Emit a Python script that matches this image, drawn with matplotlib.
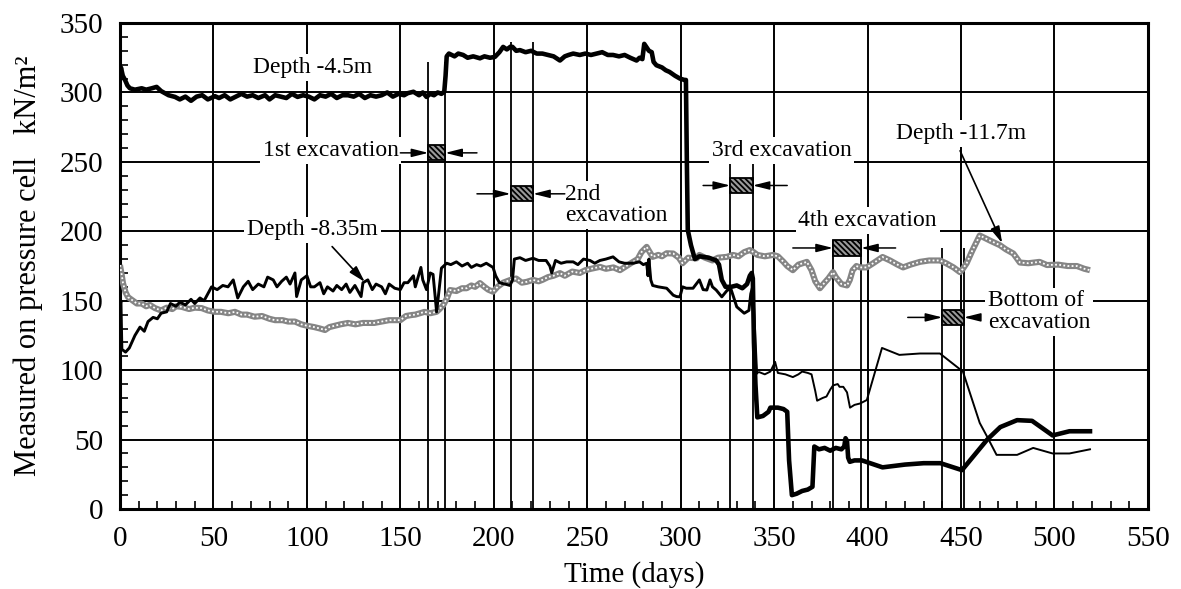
import numpy as np
import matplotlib
matplotlib.use("Agg")
import matplotlib.pyplot as plt
from matplotlib.patches import Rectangle
from matplotlib.ticker import MultipleLocator

plt.rcParams['font.family'] = ['Liberation Serif', 'DejaVu Serif']
plt.rcParams['hatch.linewidth'] = 1.3

# Depth -4.5m (thick black)
d45_days = [0, 0.5, 1.5, 2.7, 4, 5.3, 8, 11.6, 14, 17, 19.6, 22, 24, 26, 29.4, 32, 35, 38, 41, 44,
            47, 50.8, 53, 56, 59, 62, 65, 68, 71, 74, 77.6, 80, 83, 86, 89, 92, 95, 98, 101, 104,
            107, 110, 113, 116, 119, 122, 125, 128, 131, 134, 137, 140, 143, 146, 149, 152, 154, 157, 160, 162,
            164, 166, 168, 170, 172, 173.5, 174.2, 174.8, 176, 179, 181, 183.6, 186, 189, 192.6, 195,
            198, 200.6, 203, 205, 207, 209, 210, 212, 214, 217, 220, 223, 226, 229, 232, 235.4,
            238, 240, 242.5, 246, 249, 252, 255, 258, 261, 263.8, 267, 270, 273, 276.4, 278, 279.5,
            280.5, 281.5, 283, 284.5, 285.5, 287, 290, 292, 294, 297, 299.6, 302, 302.8, 303.3, 303.8,
            305.5, 307.6, 310, 315, 319, 320.5, 322, 324, 327, 330, 333, 335.5, 337, 338, 338.6, 339.2,
            340, 341, 344, 347, 348, 352, 355, 357, 358, 359.5, 362, 365, 368, 370.5, 371.5, 374, 377,
            380, 383, 386, 387.5, 388.2, 389, 389.6, 390.5, 393, 397, 408, 420, 430, 439, 450.5, 464,
            471, 480, 488, 499, 508, 519]
d45_vals = [310, 318, 312, 309, 305, 303, 302, 303, 302, 303, 304, 301, 299.5, 298, 296.8, 295, 297, 294, 297, 298,
            295, 297.3, 296, 298, 295, 297, 299, 297, 298, 296, 298, 295, 298, 297, 296, 299, 296.8, 298, 297, 295,
            298, 297, 299, 296, 298, 298, 297, 299, 296, 298, 297, 298, 300, 297, 299, 298, 299.5, 300.5, 298, 300,
            296.8, 299, 298, 300, 299, 300.5, 312, 326, 328, 326, 328, 327, 325, 326, 324.6, 326,
            325, 325.6, 329, 332.8, 331, 333, 332.8, 330, 330.5, 329, 330, 328, 328, 327, 326, 323,
            326, 327, 328, 327, 328, 327, 328, 329, 327, 327, 326, 327, 325, 323, 325, 324,
            335, 333, 330, 329, 322, 319.6, 318, 316, 314.8, 312, 310, 309, 309, 250, 201,
            190, 180, 182, 181, 179, 176, 165, 160, 160, 161, 159, 162, 168, 170, 166, 120,
            90, 66, 67, 70, 73, 73, 72, 70, 35, 10, 11, 13, 14, 16, 45, 43, 44,
            42, 44, 43, 45, 51, 49, 37, 34, 35, 35, 30, 32, 33, 33, 28, 50,
            59, 64, 63.5, 53, 56, 56]

# Depth -8.35m (medium, thin after day 340)
d835_days = [0, 0.5, 1, 3, 5, 8, 10.7, 13, 15, 17.7, 20, 22, 25, 27, 30, 32, 35, 38, 40, 42.8,
             45, 47, 49, 52, 55, 57.8, 60.6, 63, 66, 68.6, 71, 74, 77, 79, 82, 84, 86.5, 89, 91, 93.6,
             94.5, 97, 100, 102, 104, 107, 109, 111, 114, 116, 118.6, 121, 123, 125.7, 129, 130, 132.6, 135, 137, 140,
             142, 144, 147, 150, 152, 154, 157, 158, 161, 162, 164, 166, 167.5, 169, 169.4, 170.5, 172, 174.8, 177, 180,
             183, 186, 188, 190.8, 193, 196, 199.6, 201, 203, 206, 208.7, 210, 211, 214, 217, 221, 224, 228, 230, 231,
             233, 236, 239, 242.5, 245, 248, 251.5, 254, 256.8, 260, 263.8, 267, 270, 274.5, 278, 280, 281.8, 282.5, 283, 284,
             285, 288, 292.5, 296, 297.8, 299.6, 301, 303, 306.6, 310, 312, 314, 315.7, 317, 319, 322, 325, 327, 330, 334,
             336.5, 337.5, 338.5, 339.5, 340.6,
             342, 345, 348, 350.5, 352, 356, 360, 363, 365, 368, 370, 372, 373, 376, 378, 380, 381.5, 384, 385, 387,
             389, 390.6, 393, 396, 399.6, 407.7, 417, 428, 438.7, 451, 460, 464, 469, 480, 488.6, 499, 508, 519]
d835_vals = [145, 150, 115, 113, 116, 125, 131, 128, 135, 138, 137, 141, 142, 148, 146, 149, 147, 151, 148, 152,
             150, 155, 160, 158, 161, 160, 165, 152, 160, 164, 158, 162, 160, 167, 165, 160, 164, 167, 162, 170,
             153, 165, 168, 160, 160, 163, 155, 160, 157, 161, 158, 162, 156, 161, 153, 163, 165, 158, 162, 160,
             155, 162, 159, 158, 163, 163, 168, 160, 174, 165, 158, 170, 169, 148, 142, 155, 173.5, 177, 176, 178,
             175, 177, 174, 176, 175, 177, 174, 168, 163, 162, 161, 165, 180, 181, 179, 180.6, 179, 179, 175, 170,
             179, 177, 178, 178, 176, 180, 179, 177, 179, 180, 181.6, 178, 177, 177, 178, 176, 177, 168, 180, 165,
             161, 160, 159, 154, 153, 152.8, 160, 159, 159, 165, 158, 157.7, 165, 160, 157.7, 152.8, 157.7, 158, 145.6, 141,
             143, 155, 160, 130, 98,
             98.6, 97, 99, 106, 98, 97, 95, 97, 99, 98, 97, 85, 78, 80, 81, 86, 89, 90, 88, 88,
             84, 73, 75, 76, 78.5, 116, 111, 112, 112, 99, 62, 52, 39, 39, 44, 40, 40, 43]

# Depth -11.7m (grey)
d117_days = [0, 1, 1.6, 3, 4.3, 7, 9, 11.6, 14, 16, 18.7, 22, 25, 28, 30, 33, 37, 40, 43.7, 47,
             50.8, 54, 58, 61.5, 65, 68, 72, 76, 80, 83, 87, 90, 93.6, 97, 100, 104, 107, 109.7, 112, 115,
             118, 122, 126, 130, 133, 136, 140, 144, 147, 150, 153, 156, 158, 160.5, 163, 166, 169.4, 171, 173, 175,
             176.6, 180, 183, 185.5, 188, 190, 192.6, 195, 197, 199.6, 202, 205, 208.7, 212, 215, 217.6, 221, 224, 226, 229,
             232, 235.4, 238, 242, 246, 249, 252, 256.8, 260, 264, 267.5, 271, 274.5, 277, 279, 281.8, 283, 285, 288, 290,
             292.5, 296, 299, 301, 304, 308.5, 310, 313, 317, 320, 324.6, 328, 331, 334, 337, 339, 341, 345, 349.5, 352,
             355, 357, 360, 363, 367.5, 370, 372, 374.5, 377, 379, 381.5, 383, 386, 389, 390.5, 392, 394, 396, 399.5, 403,
             408, 412, 416, 419, 423, 428, 433, 438.7, 442, 446, 449.4, 451, 453, 456, 460, 463, 466, 470.8, 474, 478,
             481.5, 486, 492, 496, 502, 507, 512, 516, 519]
d117_vals = [175.7, 168, 162.7, 156, 152.6, 150, 148, 148, 146, 147, 144.7, 143, 145, 144, 146, 145.6, 144, 145, 144.7, 143,
             142, 142, 141, 142, 140, 140, 138.5, 139, 137, 136, 136, 135, 135, 133, 132, 131, 130, 128.9, 131, 132,
             133, 134, 133, 134, 134, 134, 135, 136, 136, 136, 139, 139.7, 140, 141, 142, 141, 142, 144, 146.9, 152,
             157.7, 157, 159, 159, 161, 160, 162.7, 160, 158, 156.5, 160, 163, 164.9, 166, 163, 163.6, 165, 164, 165, 167,
             168, 169.9, 168, 171, 170, 172, 173, 174.4, 173, 174, 172, 175, 178, 180, 185, 188.8, 186, 181.6, 183, 182,
             184.2, 184, 181, 177, 181, 180.5, 183, 181, 179, 181, 181.6, 183, 182, 185, 186.5, 185, 183, 182, 183, 182,
             178, 175, 172, 176, 178, 172, 164, 159, 163, 166, 170.6, 167, 162, 161, 165, 172, 175, 174, 174, 177,
             181.5, 179, 176, 174, 176, 178, 179, 179, 177, 174, 170.6, 173, 177, 186, 197, 195, 193, 190, 187, 184,
             177.5, 177, 178, 175.7, 176, 175, 175, 173, 172]

# excavation stages (days)
exc_start = [165, 209, 326.5, 381.5, 440]
exc_end = [174, 221, 338.5, 396.5, 451.5]

fig = plt.figure(figsize=(11.81, 5.89), dpi=100)
ax = fig.add_axes([0.1016, 0.1358, 0.8704, 0.8251])
ax.set_xlim(0, 550)
ax.set_ylim(0, 350)
ax.xaxis.set_major_locator(MultipleLocator(50))
ax.xaxis.set_minor_locator(MultipleLocator(10))
ax.yaxis.set_major_locator(MultipleLocator(50))
ax.yaxis.set_minor_locator(MultipleLocator(10))
ax.set_axisbelow(True)
ax.grid(True, which='major', color='black', lw=1.4)
ax.tick_params(which='both', direction='in', top=False, right=False)
ax.tick_params(which='major', length=0, labelsize=21)
ax.tick_params(axis='y', which='major', pad=12)
ax.tick_params(axis='x', which='major', pad=12)
ax.tick_params(which='minor', length=5.5, width=1.2)
for s in ax.spines.values():
    s.set_linewidth(2.2)

ax.set_xlabel('Time (days)', fontsize=21, labelpad=7)
ax.set_ylabel('Measured on pressure cell   kN/m²', fontsize=22, labelpad=12)

# excavation boundary lines
line_tops = [322, 336, 249, 194, 188]
ax.vlines(exc_start, 0, line_tops, color='black', lw=1.3, zorder=2)
ax.vlines(exc_end, 0, line_tops, color='black', lw=1.3, zorder=2)

# series
d117_days = np.array(d117_days)
ax.plot(d117_days, d117_vals, color='#858585', lw=4.4, zorder=3, solid_capstyle='butt')
ax.plot(d117_days, d117_vals, color='white', lw=1.3, ls=(0, (1, 1.3)), zorder=3)

d835_days = np.array(d835_days)
d835_vals = np.array(d835_vals)
m = d835_days <= 340.6
ax.plot(d835_days[m], d835_vals[m], color='black', lw=2.1, zorder=4)
ax.plot(d835_days[d835_days >= 340.6], d835_vals[d835_days >= 340.6], color='black', lw=1.4, zorder=4)

ax.plot(d45_days, d45_vals, color='black', lw=3.3, zorder=5)

# excavation boxes + arrows
box_levels = [256.5, 227, 233, 188, 138]
arrow_len_l = [15, 18, 14.5, 21.5, 18.5]
arrow_len_r = [17, 17, 18.5, 18.5, 8.5]
for s, e, lv, al, ar in zip(exc_start, exc_end, box_levels, arrow_len_l, arrow_len_r):
    ax.add_patch(Rectangle((s, lv - 5.5), e - s, 11, facecolor='#9a9a9a', edgecolor='black',
                           hatch='\\\\\\\\\\\\', lw=1.3, zorder=6))
    style = '-|>,head_length=1.0,head_width=0.25'
    ax.annotate('', xy=(s, lv), xytext=(s - al, lv),
                arrowprops=dict(arrowstyle=style, color='black', lw=1.1, shrinkA=0, shrinkB=0), zorder=6)
    ax.annotate('', xy=(e, lv), xytext=(e + ar, lv),
                arrowprops=dict(arrowstyle=style, color='black', lw=1.1, shrinkA=0, shrinkB=0), zorder=6)

tb = dict(facecolor='white', edgecolor='none', pad=2)
fs = 17
ax.text(103, 318, 'Depth -4.5m', fontsize=fs, ha='center', va='center', bbox=tb, zorder=4)
ax.text(149, 258, '1st excavation', fontsize=fs, ha='right', va='center', bbox=tb, zorder=4)
ax.text(103, 201, 'Depth -8.35m', fontsize=fs, ha='center', va='center', bbox=tb, zorder=4)
ax.text(238, 219, '2nd\nexcavation', fontsize=fs, ha='left', va='center', linespacing=1.05,
        bbox=tb, zorder=4)
ax.text(316.5, 258, '3rd excavation', fontsize=fs, ha='left', va='center', bbox=tb, zorder=4)
ax.text(400, 208, '4th excavation', fontsize=fs, ha='center', va='center', bbox=tb, zorder=4)
ax.text(450, 270.5, 'Depth -11.7m', fontsize=fs, ha='center', va='center', bbox=tb, zorder=4)
ax.text(464.5, 142, 'Bottom of\nexcavation', fontsize=fs, ha='left', va='center', linespacing=1.05,
        bbox=tb, zorder=4)

arr = dict(arrowstyle='-|>,head_length=1.0,head_width=0.28', color='black', lw=1.2,
           shrinkA=0, shrinkB=0)
ax.annotate('', xy=(131, 163.5), xytext=(113.5, 189), arrowprops=arr, zorder=6)
ax.annotate('', xy=(472, 191.5), xytext=(449.5, 258), arrowprops=arr, zorder=6)

fig.savefig('out.png', dpi=100)
